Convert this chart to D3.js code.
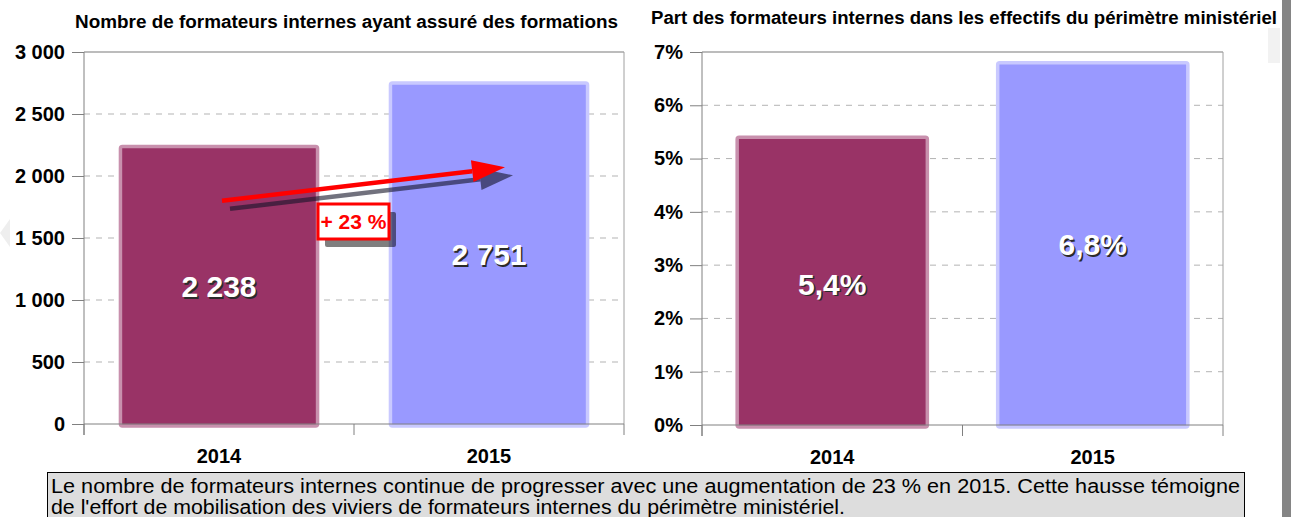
<!DOCTYPE html>
<html>
<head>
<meta charset="utf-8">
<script src="https://cdn.jsdelivr.net/npm/d3@7"></script>
<style>
  html, body { margin: 0; padding: 0; background: #fff; }
  svg { display: block; font-family: "Liberation Sans", Arial, sans-serif; }
</style>
</head>
<body>
<div id="chart"></div>
<script>
const years = ["2014", "2015"];
const formateurs = [2238, 2751];
const parts = [5.4, 6.8];
const countTicks = [0, 500, 1000, 1500, 2000, 2500, 3000];
const pctTicks = [0, 1, 2, 3, 4, 5, 6, 7];
const titleLeft = "Nombre de formateurs internes ayant assuré des formations";
const titleRight = "Part des formateurs internes dans les effectifs du périmètre ministériel";
const noteLines = [
  "Le nombre de formateurs internes continue de progresser avec une augmentation de 23\u00a0% en 2015. Cette hausse témoigne",
  "de l'effort de mobilisation des viviers de formateurs internes du périmètre ministériel."
];
const fills = ["#993366", "#9999ff"];
const strokes = ["#c890ad", "#c9c9ff"];

const W = 1291, H = 517;
const fr = d3.formatLocale({ decimal: ",", thousands: "\u00a0", grouping: [3], currency: ["", " €"] });
const fmtCount = fr.format(",d");
const fmtPct = d => fr.format(",.1f")(d) + "%";

const svg = d3.select("#chart").append("svg")
  .attr("width", W)
  .attr("height", H);

// decorations at the edges of the slide
svg.append("path")
  .attr("d", "M0,233 L10,219 L10,247 Z")
  .attr("fill", "#eeeeee");
svg.append("rect")
  .attr("x", 1268).attr("y", 28).attr("width", 12).attr("height", 35)
  .attr("fill", "#f2f2f2");
svg.append("rect")
  .attr("x", 1282).attr("y", 0).attr("width", 9).attr("height", H)
  .attr("fill", "#858585");

const drawPanel = (opts) => {
  const { left, right, top, bottom, domainMax, ticks, values, tickFmt, labelFmt, labelPos, title, titleX, titleY, titleW } = opts;
  const g = svg.append("g");

  const x = d3.scaleBand()
    .domain(years)
    .range([left, right])
    .padding(0);
  const y = d3.scaleLinear()
    .domain([0, domainMax])
    .range([bottom, top]);

  // grid
  g.append("g")
    .selectAll("line")
    .data(ticks.filter(t => t > 0 && t < domainMax))
    .join("line")
      .attr("x1", left)
      .attr("x2", right)
      .attr("y1", d => y(d))
      .attr("y2", d => y(d))
      .attr("stroke", "#b3b3b3")
      .attr("stroke-dasharray", "6,6");

  // frame
  g.append("line")
    .attr("x1", left).attr("x2", right)
    .attr("y1", top).attr("y2", top)
    .attr("stroke", "#a6a6a6").attr("stroke-width", 1.5);
  g.append("line")
    .attr("x1", right).attr("x2", right)
    .attr("y1", top).attr("y2", bottom)
    .attr("stroke", "#a0a0a0");

  // bars
  const bw = x.bandwidth() * 0.73;
  g.append("g")
    .selectAll("rect")
    .data(years)
    .join("rect")
      .attr("x", d => x(d) + (x.bandwidth() - bw) / 2)
      .attr("y", (d, i) => y(values[i]))
      .attr("width", bw)
      .attr("height", (d, i) => y(0) - y(values[i]) + 2)
      .attr("rx", 2)
      .attr("fill", (d, i) => fills[i])
      .attr("stroke", (d, i) => strokes[i])
      .attr("stroke-width", 3.5);

  // y axis
  const yAxis = g.append("g")
    .attr("transform", `translate(${left},0)`)
    .call(d3.axisLeft(y).tickValues(ticks).tickSize(12).tickPadding(7).tickFormat(tickFmt))
    .call(a => a.select(".domain").remove());
  yAxis.selectAll("line").attr("stroke", "#808080");
  yAxis.selectAll("text")
    .attr("font-size", 20)
    .attr("font-weight", "bold")
    .attr("fill", "#000")
    .attr("font-family", "Liberation Sans, Arial, sans-serif");
  g.append("line")
    .attr("x1", left).attr("x2", left)
    .attr("y1", top).attr("y2", bottom + 11)
    .attr("stroke", "#808080");

  // x axis
  g.append("line")
    .attr("x1", left).attr("x2", right)
    .attr("y1", bottom).attr("y2", bottom)
    .attr("stroke", "#808080");
  g.append("g")
    .selectAll("line")
    .data(years.map(d => x(d)).concat([right]))
    .join("line")
      .attr("x1", d => d).attr("x2", d => d)
      .attr("y1", bottom).attr("y2", bottom + 11)
      .attr("stroke", "#808080");
  const xAxis = g.append("g")
    .attr("transform", `translate(0,${bottom})`)
    .call(d3.axisBottom(x).tickSize(0).tickPadding(25))
    .call(a => a.select(".domain").remove());
  xAxis.selectAll("text")
    .attr("font-size", 20)
    .attr("font-weight", "bold")
    .attr("fill", "#000")
    .attr("font-family", "Liberation Sans, Arial, sans-serif");

  // value labels with shadow
  years.forEach((d, i) => {
    const cx = x(d) + x.bandwidth() / 2;
    const cy = y(labelPos[i]);
    [["#2b2b2b", 1.5], ["#ffffff", 0]].forEach(([c, off]) => {
      g.append("text")
        .attr("x", cx + off)
        .attr("y", cy + off)
        .attr("text-anchor", "middle")
        .attr("font-size", 30)
        .attr("font-weight", "bold")
        .attr("fill", c)
        .text(labelFmt(values[i]));
    });
  });

  // title
  g.append("text")
    .attr("x", titleX)
    .attr("y", titleY)
    .attr("font-size", 18)
    .attr("font-weight", "bold")
    .attr("fill", "#000")
    .attr("textLength", titleW)
    .attr("lengthAdjust", "spacingAndGlyphs")
    .text(title);

  return { x, y };
};

const leftPanel = drawPanel({
  left: 84, right: 624, top: 52, bottom: 424,
  domainMax: 3000, ticks: countTicks, values: formateurs,
  tickFmt: fmtCount, labelFmt: fmtCount, labelPos: [1022, 1280],
  title: titleLeft, titleX: 75, titleY: 28, titleW: 543
});

drawPanel({
  left: 702, right: 1223, top: 52, bottom: 425,
  domainMax: 7, ticks: pctTicks, values: parts,
  tickFmt: d => d + "%", labelFmt: fmtPct, labelPos: [2.44, 3.19],
  title: titleRight, titleX: 651, titleY: 24, titleW: 626
});

// growth arrow annotation
{
  const { x, y } = leftPanel;
  const growth = Math.round((formateurs[1] / formateurs[0] - 1) * 100);
  const x0 = x(years[0]) + x.bandwidth() / 2 + 3;
  const x1 = x(years[1]) + x.bandwidth() / 2 + 16;
  const y0 = y(1800), y1 = y(2070);

  const arrow = (g, dx, dy, color) => {
    const ang = Math.atan2(y1 - y0, x1 - x0);
    const hl = 33, hw = 11;
    const bx = x1 - hl * Math.cos(ang), by = y1 - hl * Math.sin(ang);
    const nx = -Math.sin(ang), ny = Math.cos(ang);
    g.append("line")
      .attr("x1", x0 + dx).attr("y1", y0 + dy)
      .attr("x2", bx + dx).attr("y2", by + dy)
      .attr("stroke", color).attr("stroke-width", 4.5);
    g.append("path")
      .attr("d", `M${x1 + dx},${y1 + dy} L${bx + nx * hw + dx},${by + ny * hw + dy} L${bx - nx * hw + dx},${by - ny * hw + dy} Z`)
      .attr("fill", color);
  };
  const ag = svg.append("g");
  arrow(ag, 8, 8, "rgba(20,20,40,0.6)");
  arrow(ag, 0, 0, "#ff0000");

  const bx = 318, by = 204, bwid = 71, bh = 35;
  ag.append("rect")
    .attr("x", bx + 7).attr("y", by + 8).attr("width", bwid).attr("height", bh)
    .attr("rx", 2).attr("fill", "rgba(0,0,0,0.5)");
  ag.append("rect")
    .attr("x", bx).attr("y", by).attr("width", bwid).attr("height", bh)
    .attr("fill", "#fff").attr("stroke", "#ff0000").attr("stroke-width", 3);
  ag.append("text")
    .attr("x", bx + bwid / 2).attr("y", by + 25)
    .attr("text-anchor", "middle")
    .attr("font-size", 20)
    .attr("font-weight", "bold")
    .attr("fill", "#ff0000")
    .attr("textLength", 66)
    .attr("lengthAdjust", "spacingAndGlyphs")
    .text(`+ ${growth} %`);
}

// comment box
{
  const ng = svg.append("g");
  ng.append("rect")
    .attr("x", 47.5).attr("y", 472.5).attr("width", 1197).attr("height", 70)
    .attr("fill", "#dddddd").attr("stroke", "#000");
  ng.selectAll("text")
    .data(noteLines)
    .join("text")
      .attr("x", 51)
      .attr("y", (d, i) => 493 + i * 21)
      .attr("font-size", 20)
      .attr("fill", "#000")
      .attr("textLength", (d, i) => i === 0 ? 1189 : 794)
      .attr("lengthAdjust", "spacingAndGlyphs")
      .text(d => d);
}
</script>
</body>
</html>
